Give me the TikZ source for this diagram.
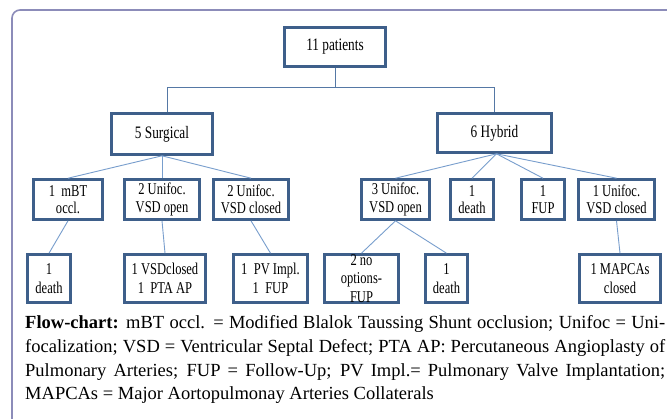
\documentclass[tikz,border=0pt]{standalone}
\usepackage{fontspec}
\setmainfont{Liberation Serif}
\newfontfamily\nodefont[FakeStretch=0.76]{Liberation Serif}
\usetikzlibrary{calc}
\hyphenpenalty=10000
\exhyphenpenalty=10000
\tolerance=10000
\definecolor{boxc}{RGB}{62,95,138}
\definecolor{connc}{RGB}{120,158,205}
\definecolor{topc}{RGB}{85,120,165}
\definecolor{framec}{RGB}{140,140,185}
\tikzset{
  box/.style={draw=boxc, line width=2.6bp, inner sep=0pt, align=center, text=black},
  bignode/.style={box, font=\nodefont\fontsize{17.5bp}{18bp}\selectfont},
  midnode/.style={box, font=\nodefont\fontsize{16.5bp}{17.5bp}\selectfont},
  lownode/.style={box, font=\nodefont\fontsize{16.5bp}{18.5bp}\selectfont},
  conn/.style={draw=connc, line width=0.9bp},
  topline/.style={draw=topc, line width=1bp},
  captext/.style={anchor=north west, text width=640bp, inner sep=0pt, align=justify,
      font=\fontsize{18.5bp}{23.7bp}\selectfont},
}
\begin{document}
\begin{tikzpicture}[x=1bp,y=-1bp]
\useasboundingbox (0,0) rectangle (667,418);
\fill[white] (0,0) rectangle (667,418);
\draw[framec, line width=1.6bp, rounded corners=8bp] (12,419) -- (12,10) -- (668,10);

% level 1-2
\node[bignode, minimum width=101bp, minimum height=39bp] (P) at (335,47) {11 patients};
\node[bignode, minimum width=101bp, minimum height=41bp] (S) at (162,134) {5 Surgical};
\node[bignode, minimum width=114bp, minimum height=39bp] (H) at (494.5,133) {6 Hybrid};

% level 3
\node[midnode, minimum width=69bp, minimum height=40bp] (S1) at (68,199.5) {1~ mBT\\occl.};
\node[midnode, minimum width=75bp, minimum height=40bp] (S2) at (162,199.5) {2 Unifoc.\\VSD open};
\node[midnode, minimum width=75bp, minimum height=40bp] (S3) at (251,199.5) {2 Unifoc.\\VSD closed};
\node[midnode, minimum width=68bp, minimum height=40bp] (H1) at (395.5,199.5) {3 Unifoc.\\VSD open};
\node[midnode, minimum width=43bp, minimum height=40bp] (H2) at (472,199.5) {1\\death};
\node[midnode, minimum width=43bp, minimum height=40bp] (H3) at (543,199.5) {1\\FUP};
\node[midnode, minimum width=76bp, minimum height=40bp] (H4) at (616.5,199.5) {1 Unifoc.\\VSD closed};

% level 4
\node[lownode, minimum width=43bp, minimum height=48bp] (L1) at (49,278.5) {1\\death};
\node[lownode, minimum width=81bp, minimum height=48bp] (L2) at (165,278.5) {1 VSDclosed\\1~ PTA AP};
\node[lownode, minimum width=74bp, minimum height=48bp] (L3) at (270.5,278.5) {1~ PV Impl.\\1~ FUP};
\node[lownode, minimum width=74bp, minimum height=48bp] (L4) at (361.5,278.5) {2 no\\options-\\FUP};
\node[lownode, minimum width=42bp, minimum height=48bp] (L5) at (446.5,278.5) {1\\death};
\node[lownode, minimum width=81bp, minimum height=48bp] (L6) at (620,278.5) {1 MAPCAs\\closed};

% connectors
\coordinate (J) at ($(P.south)+(0,20)$);
\draw[topline] (P.south) -- (J) -| ([xshift=5bp]S.north);
\draw[topline] (J) -| (H.north);
\foreach \c in {S1,S2,S3} \draw[conn] (S.south) -- (\c.north);
\foreach \c in {H1,H2,H3,H4} \draw[conn] ([xshift=2bp]H.south) -- (\c.north);
\draw[conn] (S1.south) -- (L1.north);
\draw[conn] (S2.south) -- (L2.north);
\draw[conn] (S3.south) -- (L3.north);
\draw[conn] (H1.south) -- (L4.north);
\draw[conn] (H1.south) -- (L5.north);
\draw[conn] (H4.south) -- (L6.north);

% caption
\node[captext] (cap) at (25,315.5)
{\textbf{Flow-chart:} mBT occl. = Modified Blalok Taussing Shunt occlusion; Unifoc = Uni-\linebreak
focalization; VSD = Ventricular Septal Defect; PTA AP: Percutaneous Angioplasty of\linebreak
Pulmonary Arteries; FUP = Follow-Up; PV Impl.= Pulmonary Valve Implantation;\linebreak
MAPCAs = Major Aortopulmonay Arteries Collaterals};
\end{tikzpicture}
\end{document}
